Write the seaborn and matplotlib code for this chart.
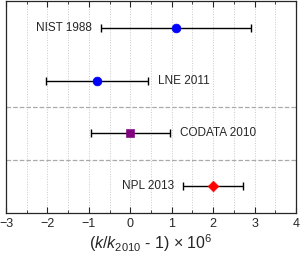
import numpy as np
import pandas as pd
import matplotlib
matplotlib.use('Agg')
import matplotlib.pyplot as plt
import seaborn as sns

sns.set_style('ticks')
plt.rcParams['font.family'] = ['Liberation Sans', 'DejaVu Sans']
plt.rcParams['mathtext.fontset'] = 'custom'
plt.rcParams['mathtext.rm'] = 'Liberation Sans'
plt.rcParams['mathtext.it'] = 'Liberation Sans:italic'

# data: (k/k2010 - 1) x 1e6 with uncertainties
labels = ['NIST 1988', 'LNE 2011', 'CODATA 2010', 'NPL 2013']
values = [1.1, -0.8, 0.0, 2.0]
errors = [1.8, 1.23, 0.95, 0.72]
rows = [1, 3, 5, 7]
markers = ['o', 'o', 's', 'D']
colors = ['#0000ff', '#0000ff', '#800080', '#ff0000']
label_side = ['left', 'right', 'right', 'left']
separators = [4, 6]

df = pd.DataFrame({'label': labels, 'value': values, 'err': errors, 'row': rows})

fig = plt.figure(figsize=(3.0, 2.6), dpi=100)
ax = fig.add_axes([0.02, 0.181, 0.967, 0.815])

ax.errorbar(df['value'], df['row'], xerr=df['err'], fmt='none', ecolor='black',
            elinewidth=1.0, capsize=3, capthick=1.0, zorder=2)
for i, r in df.iterrows():
    sns.scatterplot(x=[r['value']], y=[r['row']], marker=markers[i], color=colors[i],
                    s=40 if markers[i] == 'o' else 30, edgecolor=colors[i], ax=ax, zorder=3)
    if label_side[i] == 'left':
        ax.text(r['value'] - r['err'] - 0.22, r['row'], r['label'], ha='right', va='center', fontsize=8.5)
    else:
        ax.text(r['value'] + r['err'] + 0.24, r['row'], r['label'], ha='left', va='center', fontsize=8.5)

for s in separators:
    ax.axhline(s, color='#aaaaaa', ls='--', lw=0.9, zorder=1)

ax.set_xlim(-3, 4)
ax.set_ylim(8, 0)
ax.set_xticks(range(-3, 5))
ax.set_xticks(np.arange(-2.5, 4, 1.0), minor=True)
ax.set_yticks([])
for g in np.arange(-2.5, 4.0, 0.5):
    ax.axvline(g, color='#c8c8c8', ls=':', lw=0.7, zorder=0)
ax.tick_params(axis='x', which='both', direction='in', top=True, labelsize=9)
ax.tick_params(axis='x', which='major', length=4, pad=4)
ax.tick_params(axis='x', which='minor', length=2.5)
for sp in ax.spines.values():
    sp.set_linewidth(0.9)
ax.set_xlabel(r'($k$/$k_{2010}$ - 1) $\times$ 10$^{6}$', fontsize=11.5, labelpad=1)

fig.savefig('out.png', dpi=100)
